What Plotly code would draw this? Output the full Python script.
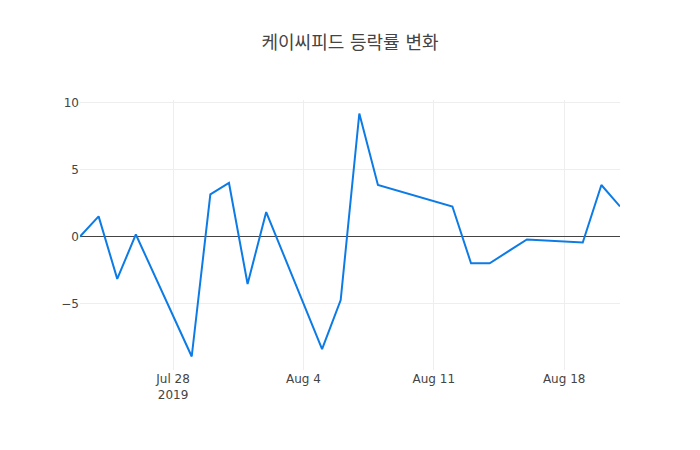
import pandas as pd
import plotly.graph_objects as go

# trading days (Korean market, Aug 15 holiday)
dates = ['2019-07-23', '2019-07-24', '2019-07-25', '2019-07-26',
         '2019-07-29', '2019-07-30', '2019-07-31', '2019-08-01', '2019-08-02',
         '2019-08-05', '2019-08-06', '2019-08-07', '2019-08-08',
         '2019-08-12', '2019-08-13', '2019-08-14', '2019-08-16',
         '2019-08-19', '2019-08-20', '2019-08-21']
# daily change rate (%)
change = [0.0, 1.5, -3.16, 0.15,
          -8.95, 3.14, 3.99, -3.54, 1.82,
          -8.4, -4.74, 9.17, 3.84,
          2.24, -2.0, -2.0, -0.22,
          -0.45, 3.84, 2.24]

df = pd.DataFrame({'date': pd.to_datetime(dates), 'change': change})

fig = go.Figure()
fig.add_trace(go.Scatter(x=df['date'], y=df['change'], mode='lines',
                         line=dict(color='#0d7be6', width=2)))
# page has an 8px body margin, so size/margins are shifted to keep plot area at 80..620 x 100..370
fig.update_layout(
    title=dict(text='케이씨피드 등락률 변화', xref='paper', x=0.5, xanchor='center',
               yref='container', y=1 - 35 / 442, yanchor='middle',
               font=dict(size=18, color='#444')),
    width=692, height=442,
    template='plotly_white',
    font=dict(family='"DejaVu Sans", "Noto Sans CJK KR", sans-serif', color='#444'),
    margin=dict(l=72, r=80, t=92, b=80),
    showlegend=False,
)
fig.update_xaxes(showgrid=True, gridcolor='#eee', zeroline=False)
fig.update_yaxes(showgrid=True, gridcolor='#eee', zeroline=True, zerolinecolor='#444', zerolinewidth=1)

fig.write_html("out.html")
